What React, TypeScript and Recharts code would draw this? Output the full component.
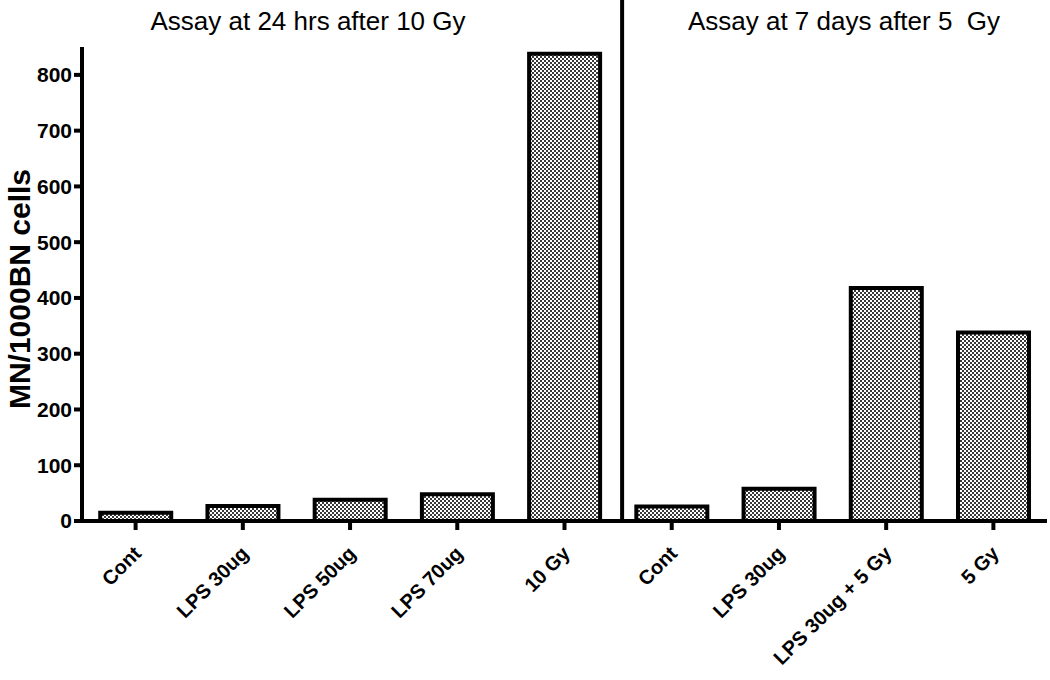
import { BarChart, Bar, XAxis, YAxis, ReferenceLine } from 'recharts';

const categories = ['Cont', 'LPS 30ug', 'LPS 50ug', 'LPS 70ug', '10 Gy', 'Cont ', 'LPS 30ug ', 'LPS 30ug + 5 Gy', '5 Gy'];
const mnValues = [15, 27, 38, 48, 838, 26, 58, 418, 338];
const yTicks = [0, 100, 200, 300, 400, 500, 600, 700, 800];
const titles = ['Assay at 24 hrs after 10 Gy', 'Assay at 7 days after 5  Gy'];

const data = categories.map((name, i) => ({ name, value: mnValues[i] }));

const FONT = '"Liberation Sans", Arial, sans-serif';

function XTick({ x, y, payload }: any) {
  return (
    <g transform={`translate(${x + 3},${y + 19}) rotate(-45)`}>
      <text x={0} y={0} textAnchor="end" dominantBaseline="middle"
        fontFamily={FONT} fontWeight="bold" fontSize={20} fill="#000">
        {payload.value.trim()}
      </text>
    </g>
  );
}

function YLabel() {
  const cx = 22;
  const cy = 289;
  return (
    <text x={cx} y={cy} transform={`rotate(-90, ${cx}, ${cy})`} textAnchor="middle"
      dominantBaseline="middle" fontFamily={FONT} fontWeight="bold" fontSize={30} fill="#000">
      MN/1000BN cells
    </text>
  );
}

const titleStyle = {
  position: 'absolute' as const, top: 6, transform: 'translateX(-50%)',
  fontFamily: FONT, fontSize: 26, whiteSpace: 'pre' as const, lineHeight: '30px',
};

export default function App() {
  return (
    <div style={{ position: 'absolute', left: 0, top: 0, width: 1050, height: 680, background: '#fff' }}>
      <div style={{ ...titleStyle, left: 308 }}>{titles[0]}</div>
      <div style={{ ...titleStyle, left: 844 }}>{titles[1]}</div>
      <BarChart width={1050} height={680} data={data} barCategoryGap="17%"
        margin={{ top: 47, right: 3, left: 0, bottom: 0 }}>
        <defs>
          <pattern id="checker" width="4" height="4" patternUnits="userSpaceOnUse">
            <rect width="4" height="4" fill="#fff" />
            <rect x="0" y="0" width="2" height="2" fill="#3a3a3a" />
            <rect x="2" y="2" width="2" height="2" fill="#3a3a3a" />
          </pattern>
        </defs>
        <XAxis dataKey="name" height={159} interval={0} tick={<XTick />}
          axisLine={{ stroke: '#000', strokeWidth: 4 }}
          tickLine={{ stroke: '#000', strokeWidth: 4 }} tickSize={9} />
        <YAxis width={82} domain={[0, 850]} ticks={yTicks} interval={0}
          tick={{ fontFamily: FONT, fontWeight: 'bold', fontSize: 21, fill: '#000' }}
          axisLine={{ stroke: '#000', strokeWidth: 4 }}
          tickLine={{ stroke: '#000', strokeWidth: 4 }} tickSize={8} tickMargin={2}
          label={<YLabel />} />
        <ReferenceLine x="10 Gy" position="end" ifOverflow="visible"
          shape={(p: any) => (
            <line x1={p.x1 + 4} x2={p.x2 + 4} y1={0} y2={Math.max(p.y1, p.y2)} stroke="#000" strokeWidth={4} />
          )} />
        <Bar dataKey="value" fill="url(#checker)" stroke="#000" strokeWidth={4} isAnimationActive={false} />
      </BarChart>
    </div>
  );
}
